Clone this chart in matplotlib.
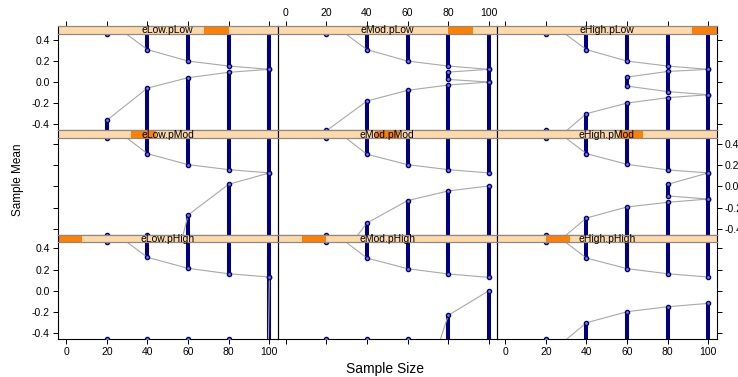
import numpy as np
import matplotlib
matplotlib.use('Agg')
import matplotlib.pyplot as plt
import matplotlib.patches as patches

plt.rcParams['font.family'] = ['Liberation Sans', 'DejaVu Sans']

nan = np.nan
sizes = [20, 40, 60, 80, 100]
tick_vals = [0, 20, 40, 60, 80, 100]

# panel layout (top row first) and the factor level order used by the strips
col_names = ['eLow', 'eMod', 'eHigh']
row_names = ['pLow', 'pMod', 'pHigh']
level_order = ['eLow.pHigh', 'eMod.pHigh', 'eHigh.pHigh',
               'eLow.pMod', 'eMod.pMod', 'eHigh.pMod',
               'eLow.pLow', 'eMod.pLow', 'eHigh.pLow']

# sample mean limits per panel: upper line, inner pair (if any), lower line
eLow_pLow_upper = [0.59, 0.306, 0.198, 0.151, 0.12]
eLow_pLow_lower = [-0.361, -0.057, 0.041, 0.092, 0.12]

eMod_pLow_upper = [0.59, 0.306, 0.198, 0.151, 0.12]
eMod_pLow_inner_hi = [nan, nan, nan, 0.094, 0.12]
eMod_pLow_inner_lo = [nan, nan, nan, 0.025, 0.0]
eMod_pLow_lower = [-0.46, -0.179, -0.078, -0.028, 0.0]

eHigh_pLow_upper = [0.59, 0.306, 0.198, 0.151, 0.12]
eHigh_pLow_inner_hi = [nan, nan, 0.047, 0.10, 0.12]
eHigh_pLow_inner_lo = [nan, nan, -0.038, -0.09, -0.119]
eHigh_pLow_lower = [-0.625, -0.298, -0.198, -0.147, -0.119]

eLow_pMod_upper = [0.60, 0.309, 0.205, 0.158, 0.127]
eLow_pMod_lower = [-2.6, -1.8, -0.27, 0.02, 0.127]

eMod_pMod_upper = [0.60, 0.303, 0.205, 0.158, 0.127]
eMod_pMod_lower = [-0.85, -0.345, -0.134, -0.043, 0.004]

eHigh_pMod_upper = [0.60, 0.309, 0.208, 0.155, 0.127]
eHigh_pMod_inner_hi = [nan, nan, nan, 0.02, 0.127]
eHigh_pMod_inner_lo = [nan, nan, nan, -0.09, -0.119]
eHigh_pMod_lower = [-0.62, -0.298, -0.194, -0.15, -0.119]

eLow_pHigh_upper = [0.60, 0.315, 0.211, 0.16, 0.129]
eLow_pHigh_lower = [-40.0, -35.0, -30.0, -25.0, 0.129]

eMod_pHigh_upper = [0.60, 0.308, 0.208, 0.158, 0.126]
eMod_pHigh_lower = [-2.6, -2.0, -1.4, -0.232, 0.0]

eHigh_pHigh_upper = [0.60, 0.308, 0.208, 0.16, 0.129]
eHigh_pHigh_lower = [-0.62, -0.302, -0.198, -0.151, -0.119]

none5 = [nan] * 5
panels = {
    'eLow.pLow': (eLow_pLow_upper, none5, none5, eLow_pLow_lower),
    'eMod.pLow': (eMod_pLow_upper, eMod_pLow_inner_hi, eMod_pLow_inner_lo, eMod_pLow_lower),
    'eHigh.pLow': (eHigh_pLow_upper, eHigh_pLow_inner_hi, eHigh_pLow_inner_lo, eHigh_pLow_lower),
    'eLow.pMod': (eLow_pMod_upper, none5, none5, eLow_pMod_lower),
    'eMod.pMod': (eMod_pMod_upper, none5, none5, eMod_pMod_lower),
    'eHigh.pMod': (eHigh_pMod_upper, eHigh_pMod_inner_hi, eHigh_pMod_inner_lo, eHigh_pMod_lower),
    'eLow.pHigh': (eLow_pHigh_upper, none5, none5, eLow_pHigh_lower),
    'eMod.pHigh': (eMod_pHigh_upper, none5, none5, eMod_pHigh_lower),
    'eHigh.pHigh': (eHigh_pHigh_upper, none5, none5, eHigh_pHigh_lower),
}

NAVY = '#000080'
GREY = '#a8a8a8'
STRIP = '#ffd9a8'
SHINGLE = '#ff8000'
YLO, YHI = -0.455, 0.455
BIG = 100.0

W, H = 738, 377
fig = plt.figure(figsize=(W / 100, H / 100), dpi=100)


def px_box(left, top, width, height):
    return [left / W, 1 - (top + height) / H, width / W, height / H]


def draw_panel(ax, upper, inner_hi, inner_lo, lower):
    x = np.array(sizes, dtype=float)
    upper, inner_hi = np.array(upper), np.array(inner_hi)
    inner_lo, lower = np.array(inner_lo), np.array(lower)
    bar_kw = dict(color=NAVY, lw=2.9, solid_capstyle='butt', zorder=2)
    for i, xi in enumerate(x):
        ax.plot([xi, xi], [upper[i], BIG], **bar_kw)
        ax.plot([xi, xi], [lower[i], -BIG], **bar_kw)
        if not np.isnan(inner_hi[i]):
            ax.plot([xi, xi], [inner_lo[i], inner_hi[i]], **bar_kw)
    for s in (upper, inner_hi, inner_lo, lower):
        ax.plot(x, s, color=GREY, lw=0.8, zorder=3)
        ax.plot(x, np.clip(s, YLO, YHI), 'o', ms=3.0, mfc='#7c7cc4',
                mec=NAVY, mew=1.0, zorder=4)


col_left = [58, 277.5, 497]
col_w = 219.5
row_top0, row_h, strip_h = 26, 104.33, 7.8

for r, rn in enumerate(row_names):
    for c, cn in enumerate(col_names):
        name = cn + '.' + rn
        top = row_top0 + r * row_h
        ax = fig.add_axes(px_box(col_left[c], top + strip_h, col_w, row_h - strip_h))
        draw_panel(ax, *panels[name])
        ax.set_xlim(-4, 104)
        ax.set_ylim(YLO, YHI)
        ax.set_xticks(tick_vals)
        ax.set_xticklabels([str(v) for v in tick_vals])
        ax.set_yticks([-0.4, -0.2, 0.0, 0.2, 0.4])
        ax.set_yticklabels(['-0.4', '-0.2', '0.0', '0.2', '0.4'])
        ax.tick_params(direction='out', length=3.5, width=0.7, labelsize=7.5,
                       pad=2.5, colors='black',
                       left=(c == 0), labelleft=(c == 0 and r != 1),
                       right=(c == 2), labelright=(c == 2 and r == 1),
                       bottom=(r == 2), labelbottom=(r == 2 and c != 1),
                       top=False, labeltop=False)
        for sp in ax.spines.values():
            sp.set_linewidth(0.8)
            sp.set_color('black')
        ax.spines['top'].set_visible(False)
        ax.patch.set_alpha(0)

        # strip
        sax = fig.add_axes(px_box(col_left[c], top, col_w, strip_h))
        sax.set_facecolor(STRIP)
        sax.set_xlim(-4, 104)
        sax.set_ylim(0, 1)
        k = level_order.index(name)
        sax.add_patch(patches.Rectangle((k / 9, 0), 1 / 9, 1, transform=sax.transAxes,
                                        facecolor=SHINGLE, edgecolor='none'))
        sax.text(0.5, 0.45, name, transform=sax.transAxes, ha='center', va='center',
                 fontsize=7.5)
        sax.set_yticks([])
        sax.set_xticks(tick_vals)
        sax.set_xticklabels([str(v) for v in tick_vals])
        sax.tick_params(direction='out', length=3.5, width=0.7, labelsize=7.5, pad=2.5,
                        bottom=False, labelbottom=False,
                        top=(r == 0), labeltop=(r == 0 and c == 1))
        for s in ('top', 'bottom'):
            sax.spines[s].set_color('#8a8a8a')
            sax.spines[s].set_linewidth(0.9)
        for s in ('left', 'right'):
            sax.spines[s].set_color('black')
            sax.spines[s].set_linewidth(0.8)

fig.text(18 / W, 1 - 180 / H, 'Sample Mean', rotation=90, ha='center', va='center',
         fontsize=8.5)
fig.text(385 / W, 1 - 369 / H, 'Sample Size', ha='center', va='center', fontsize=10)

fig.savefig('out.png', dpi=100)
